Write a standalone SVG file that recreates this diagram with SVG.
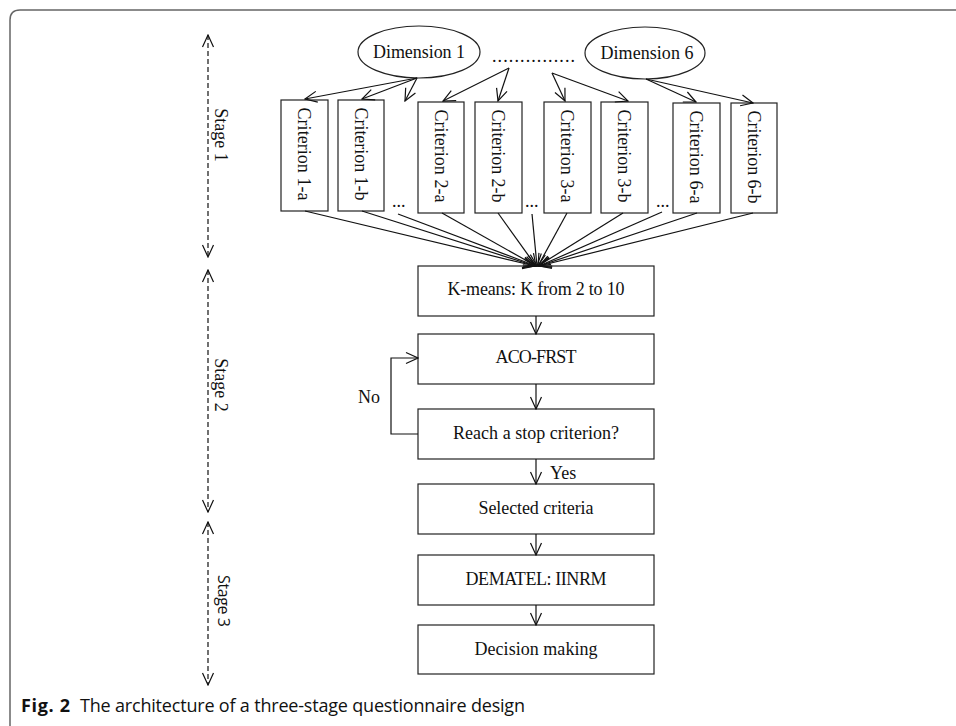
<svg xmlns="http://www.w3.org/2000/svg" width="956" height="726" viewBox="0 0 956 726">
<style>
.box{fill:#fff;stroke:#222;stroke-width:1.2}
.ln{fill:none;stroke:#111;stroke-width:1.2}
.dash{fill:none;stroke:#111;stroke-width:1.2;stroke-dasharray:5 3}
.t{font-family:"Liberation Serif","DejaVu Serif",serif;font-size:18px;fill:#111}
.s{font-family:"Open Sans","Liberation Sans",sans-serif;fill:#111}
</style>
<defs>
<marker id="ah" markerUnits="userSpaceOnUse" markerWidth="14" markerHeight="14" viewBox="0 0 14 14" refX="13" refY="7" orient="auto-start-reverse">
<path d="M1,1.5 L13,7 L1,12.5" fill="none" stroke="#111" stroke-width="1.2" stroke-dasharray="none"/>
</marker>
</defs>
<rect width="956" height="726" fill="#fff"/>
<path d="M10,726 V20 Q10,10 20,10 H956" fill="none" stroke="#666" stroke-width="1.5"/>

<g id="stages">
<line class="dash" x1="208" y1="35" x2="208" y2="257" marker-start="url(#ah)" marker-end="url(#ah)"/>
<line class="dash" x1="208" y1="270" x2="208" y2="512" marker-start="url(#ah)" marker-end="url(#ah)"/>
<line class="dash" x1="208" y1="522" x2="208" y2="685" marker-start="url(#ah)" marker-end="url(#ah)"/>
<text class="t" transform="translate(221,135) rotate(90)" text-anchor="middle" dy="0.35em">Stage 1</text>
<text class="t" transform="translate(221,385) rotate(90)" text-anchor="middle" dy="0.35em">Stage 2</text>
<text class="s" font-size="16" transform="translate(224,601) rotate(90)" text-anchor="middle" dy="0.35em" textLength="52">Stage 3</text>
</g>

<g id="dim1">
<ellipse class="box" cx="419" cy="52" rx="61" ry="26"/>
<text class="t" x="419" y="58" text-anchor="middle" textLength="92">Dimension 1</text>
</g>
<g id="dim6">
<ellipse class="box" cx="645" cy="53" rx="60" ry="26"/>
<text class="t" x="647" y="59" text-anchor="middle" textLength="93">Dimension 6</text>
</g>
<g id="dimdots">
<text class="t" x="492" y="62" textLength="83">...............</text>
</g>

<g id="c1a"><rect class="box" x="281" y="100" width="47" height="111"/><text class="t" transform="translate(304.5,154) rotate(90)" text-anchor="middle" dy="0.35em" textLength="93">Criterion 1-a</text></g>
<g id="c1b"><rect class="box" x="338" y="100" width="46" height="111"/><text class="t" transform="translate(361,154) rotate(90)" text-anchor="middle" dy="0.35em" textLength="93">Criterion 1-b</text></g>
<g id="c2a"><rect class="box" x="418" y="102" width="46" height="111"/><text class="t" transform="translate(441,156) rotate(90)" text-anchor="middle" dy="0.35em" textLength="93">Criterion 2-a</text></g>
<g id="c2b"><rect class="box" x="475" y="102" width="47" height="111"/><text class="t" transform="translate(498.5,156) rotate(90)" text-anchor="middle" dy="0.35em" textLength="93">Criterion 2-b</text></g>
<g id="c3a"><rect class="box" x="544" y="102" width="47" height="111"/><text class="t" transform="translate(567.5,156) rotate(90)" text-anchor="middle" dy="0.35em" textLength="93">Criterion 3-a</text></g>
<g id="c3b"><rect class="box" x="601" y="102" width="47" height="111"/><text class="t" transform="translate(624.5,156) rotate(90)" text-anchor="middle" dy="0.35em" textLength="93">Criterion 3-b</text></g>
<g id="c6a"><rect class="box" x="673" y="103" width="47" height="110"/><text class="t" transform="translate(696.5,157) rotate(90)" text-anchor="middle" dy="0.35em" textLength="93">Criterion 6-a</text></g>
<g id="c6b"><rect class="box" x="731" y="103" width="46" height="110"/><text class="t" transform="translate(754,157) rotate(90)" text-anchor="middle" dy="0.35em" textLength="93">Criterion 6-b</text></g>
<g id="critdots">
<text class="t" x="392" y="207">...</text>
<text class="t" x="525" y="207">...</text>
<text class="t" x="656" y="207">...</text>
</g>

<g id="kmeans"><rect class="box" x="418" y="266" width="236" height="50"/><text class="t" x="536" y="295" text-anchor="middle" textLength="177">K-means: K from 2 to 10</text></g>
<g id="aco"><rect class="box" x="418" y="334" width="236" height="50"/><text class="t" x="536" y="363" text-anchor="middle" textLength="81">ACO-FRST</text></g>
<g id="reach"><rect class="box" x="418" y="409" width="236" height="50"/><text class="t" x="536" y="439" text-anchor="middle" textLength="166">Reach a stop criterion?</text></g>
<g id="selected"><rect class="box" x="418" y="484" width="236" height="50"/><text class="t" x="536" y="514" text-anchor="middle" textLength="115">Selected criteria</text></g>
<g id="dematel"><rect class="box" x="418" y="555" width="236" height="50"/><text class="t" x="536" y="585" text-anchor="middle" textLength="141">DEMATEL: IINRM</text></g>
<g id="decision"><rect class="box" x="418" y="625" width="236" height="49"/><text class="t" x="536" y="655" text-anchor="middle" textLength="123">Decision making</text></g>

<g id="connectors">
<line class="ln" x1="417" y1="78" x2="305" y2="99" marker-end="url(#ah)"/>
<line class="ln" x1="417" y1="78" x2="362" y2="99" marker-end="url(#ah)"/>
<line class="ln" x1="417" y1="78" x2="405" y2="101" marker-end="url(#ah)"/>
<line class="ln" x1="509" y1="68" x2="443" y2="101" marker-end="url(#ah)"/>
<line class="ln" x1="509" y1="68" x2="498" y2="101" marker-end="url(#ah)"/>
<line class="ln" x1="552" y1="73" x2="565" y2="101" marker-end="url(#ah)"/>
<line class="ln" x1="552" y1="73" x2="628" y2="101" marker-end="url(#ah)"/>
<line class="ln" x1="646" y1="79" x2="696" y2="102" marker-end="url(#ah)"/>
<line class="ln" x1="646" y1="79" x2="753" y2="103" marker-end="url(#ah)"/>

<line class="ln" x1="305" y1="211" x2="535" y2="266" marker-end="url(#ah)"/>
<line class="ln" x1="362" y1="211" x2="535" y2="266" marker-end="url(#ah)"/>
<line class="ln" x1="398" y1="214" x2="536" y2="266" marker-end="url(#ah)"/>
<line class="ln" x1="442" y1="213" x2="536" y2="266" marker-end="url(#ah)"/>
<line class="ln" x1="498" y1="213" x2="536" y2="266" marker-end="url(#ah)"/>
<line class="ln" x1="532" y1="214" x2="537" y2="266" marker-end="url(#ah)"/>
<line class="ln" x1="567" y1="213" x2="538" y2="266" marker-end="url(#ah)"/>
<line class="ln" x1="623" y1="213" x2="538" y2="266" marker-end="url(#ah)"/>
<line class="ln" x1="662" y1="212" x2="539" y2="266" marker-end="url(#ah)"/>
<line class="ln" x1="697" y1="213" x2="539" y2="266" marker-end="url(#ah)"/>
<line class="ln" x1="753" y1="213" x2="539" y2="266" marker-end="url(#ah)"/>

<line class="ln" x1="536" y1="316" x2="536" y2="334" marker-end="url(#ah)"/>
<line class="ln" x1="536" y1="384" x2="536" y2="409" marker-end="url(#ah)"/>
<line class="ln" x1="536" y1="459" x2="536" y2="484" marker-end="url(#ah)"/>
<line class="ln" x1="536" y1="534" x2="536" y2="555" marker-end="url(#ah)"/>
<line class="ln" x1="536" y1="605" x2="536" y2="625" marker-end="url(#ah)"/>
<polyline class="ln" points="418,434 391,434 391,358 418,358" marker-end="url(#ah)"/>
<text class="t" x="550" y="479">Yes</text>
<text class="t" x="380" y="403" text-anchor="end">No</text>
</g>

<g id="caption">
<text class="s" x="21" y="712" font-size="18" font-weight="bold" textLength="49">Fig. 2</text>
<text class="s" x="80" y="712" font-size="18" textLength="445">The architecture of a three-stage questionnaire design</text>
</g>
</svg>
